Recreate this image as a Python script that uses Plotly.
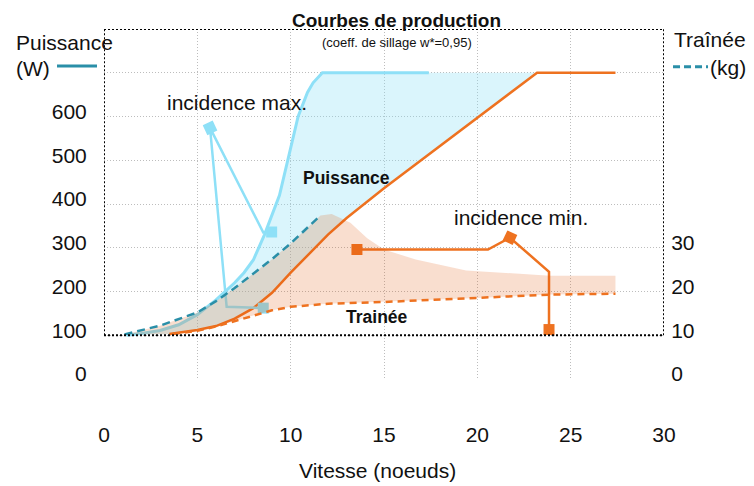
import plotly.graph_objects as go

# ---------------- data ----------------
# Puissance, incidence max (W)
speed_pmax = [1.2, 2, 3, 4, 5, 6, 7, 7.5, 8, 8.6, 9.4, 10, 10.4, 10.9, 11.2, 11.7, 17.4]
power_pmax = [100, 104, 111, 124, 147, 181, 220, 243, 272, 330, 420, 525, 600, 655, 677, 700, 700]

# Puissance, incidence min (W)
speed_pmin = [3.5, 5, 6, 7, 8, 9, 10, 11, 12, 13, 14, 15, 23.2, 27.4]
power_pmin = [103, 112, 121, 138, 162, 197, 243, 287, 330, 368, 403, 436, 700, 700]

# Traînée, incidence max (kg)
speed_tmax = [1.1, 3, 5, 6, 7, 8, 9, 10, 11.6]
drag_tmax = [10.2, 12.2, 15.2, 17.8, 20.8, 24.0, 27.4, 31.0, 37.4]

# Traînée envelope (upper bound of the drag band, kg)
speed_env = [1.1, 3, 5, 6, 7, 8, 9, 10, 11.6, 12.2, 13.2, 14.1, 15, 16.7, 19.4, 23.9, 27.4]
drag_env = [10.2, 12.2, 15.2, 17.8, 20.8, 24.0, 27.4, 31.0, 37.4, 37.7, 35.7, 32.2, 29.6, 27.3, 24.8, 23.6, 23.6]

# Traînée, incidence min (kg)
speed_tmin = [3.7, 5, 6, 7, 8, 9, 10, 12, 15, 20, 24, 27.4]
drag_tmin = [10.3, 11.0, 12.0, 13.2, 14.5, 15.7, 16.5, 17.2, 17.6, 18.5, 19.3, 19.5]

# callouts (W scale)
max_call_x = [8.98, 8.53, 5.68, 6.57, 8.53]
max_call_y = [336, 335, 574, 165, 162]
max_mark_x = [8.98, 5.68, 8.53]
max_mark_y = [336, 574, 162]
min_call_x = [13.55, 20.57, 21.75, 23.84, 23.84]
min_call_y = [296, 296, 323, 245, 113]
min_mark_x = [13.55, 21.75, 23.84]
min_mark_y = [296, 323, 113]

x_ticks = [0, 5, 10, 15, 20, 25, 30]
y_ticks = [0, 100, 200, 300, 400, 500, 600, 700, 800]
y_ticktext = ["0", "100", "200", "300", "400", "500", "600", "", ""]
y2_ticks = [0, 10, 20, 30]

LIGHTBLUE = "rgb(142,224,247)"
ORANGE = "rgb(238,114,32)"
TEAL = "rgb(42,143,168)"
FONT = "Liberation Sans, Arial, Helvetica, sans-serif"

fig = go.Figure()

# ---------------- fills ----------------
kink = speed_pmin.index(23.2)
fig.add_trace(go.Scatter(
    x=speed_pmax + speed_pmin[:kink + 1][::-1],
    y=power_pmax + power_pmin[:kink + 1][::-1],
    fill="toself", fillcolor="rgba(142,224,247,0.33)",
    line=dict(width=0), mode="lines", hoverinfo="skip", showlegend=False))

fig.add_trace(go.Scatter(
    x=speed_env + speed_tmin[::-1],
    y=drag_env + drag_tmin[::-1],
    yaxis="y2",
    fill="toself", fillcolor="rgba(223,81,2,0.19)",
    line=dict(width=0), mode="lines", hoverinfo="skip", showlegend=False))

# ---------------- curves ----------------
fig.add_trace(go.Scatter(x=speed_pmax, y=power_pmax, mode="lines",
                         line=dict(color=LIGHTBLUE, width=3), showlegend=False))
fig.add_trace(go.Scatter(x=speed_pmin, y=power_pmin, mode="lines",
                         line=dict(color=ORANGE, width=2.5), showlegend=False))
fig.add_trace(go.Scatter(x=speed_tmax, y=drag_tmax, yaxis="y2", mode="lines",
                         line=dict(color=TEAL, width=2.5, dash="8px,5px"), showlegend=False))
fig.add_trace(go.Scatter(x=speed_tmin, y=drag_tmin, yaxis="y2", mode="lines",
                         line=dict(color=ORANGE, width=2.5, dash="7px,5px"), showlegend=False))

# ---------------- callouts ----------------
fig.add_trace(go.Scatter(x=max_call_x, y=max_call_y, mode="lines",
                         line=dict(color=LIGHTBLUE, width=2.5), showlegend=False))
fig.add_trace(go.Scatter(x=max_mark_x, y=max_mark_y, mode="markers",
                         marker=dict(symbol="square", size=11, color=LIGHTBLUE,
                                     angle=[0, -25, 0], line=dict(width=0)),
                         showlegend=False))
fig.add_trace(go.Scatter(x=min_call_x, y=min_call_y, mode="lines",
                         line=dict(color=ORANGE, width=2.5), showlegend=False))
fig.add_trace(go.Scatter(x=min_mark_x, y=min_mark_y, mode="markers",
                         marker=dict(symbol="square", size=11, color=ORANGE,
                                     angle=[0, 25, 0], line=dict(width=0)),
                         showlegend=False))

# ---------------- frame (thick dotted) ----------------
border = dict(color="black", width=2, dash="2px,2px")
shapes = [
    dict(type="line", xref="x", yref="y", x0=0, x1=30, y0=100, y1=100, line=border),
    dict(type="line", xref="x", yref="y", x0=0, x1=30, y0=800, y1=800, line=border),
    dict(type="line", xref="x", yref="y", x0=0, x1=0, y0=100, y1=800, line=border),
    dict(type="line", xref="x", yref="y", x0=30, x1=30, y0=100, y1=800, line=border),
    # legend keys next to axis titles
    dict(type="line", xref="paper", yref="paper", x0=-0.0839, x1=-0.0125, y0=0.894, y1=0.894,
         line=dict(color=TEAL, width=3)),
    dict(type="line", xref="paper", yref="paper", x0=1.0161, x1=1.0786, y0=0.892, y1=0.892,
         line=dict(color=TEAL, width=3, dash="7px,4px")),
]


def note(text, x, y, size=21, xanchor="center", ref="paper", bold=False):
    return dict(text=f"<b>{text}</b>" if bold else text,
                xref=ref if ref == "paper" else "x", yref=ref if ref == "paper" else "y",
                x=x, y=y, xanchor=xanchor, yanchor="middle", showarrow=False,
                font=dict(family=FONT, size=size, color="#111"))


annotations = [
    note("Courbes de production", 0.523, 1.025, size=19, bold=True),
    note("(coeff. de sillage w*=0,95)", 0.523, 0.961, size=13),
    note("Puissance", -0.1607, 0.961, xanchor="left"),
    note("(W)", -0.1607, 0.8866, xanchor="left"),
    note("Traînée", 1.15, 0.9694, xanchor="right"),
    note("(kg)", 1.15, 0.889, xanchor="right"),
    note("Vitesse (noeuds)", 0.4875, -0.262),
    note("incidence max.", 7.12, 631, ref="data"),
    note("incidence min.", 22.34, 369, ref="data"),
    note("Puissance", 13.0, 459, size=17.5, ref="data", bold=True),
    note("Trainée", 14.6, 141, size=17.5, ref="data", bold=True),
]

grid = dict(showgrid=True, gridcolor="#bdbdbd", gridwidth=1, griddash="1px,2px",
            zeroline=False, showline=False)

fig.update_layout(
    width=746, height=478,
    margin=dict(l=96, r=90, t=21, b=107),
    paper_bgcolor="white", plot_bgcolor="white",
    font=dict(family=FONT, size=21, color="#111"),
    showlegend=False,
    xaxis=dict(range=[0, 30], tickvals=x_ticks, ticks="outside", ticklen=37,
               tickcolor="rgba(0,0,0,0)", tickfont=dict(size=21), **grid),
    yaxis=dict(range=[0, 800], tickvals=y_ticks, ticktext=y_ticktext, ticks="outside",
               ticklen=12, tickcolor="rgba(0,0,0,0)", tickfont=dict(size=21),
               ticklabelshift=-5, **grid),
    yaxis2=dict(range=[0, 80], tickvals=y2_ticks, overlaying="y", side="right",
                showgrid=False, zeroline=False, showline=False, ticks="outside",
                ticklen=2, tickcolor="rgba(0,0,0,0)", tickfont=dict(size=21),
                ticklabelshift=-5),
    shapes=shapes,
    annotations=annotations,
)

fig.write_html("out.html")
